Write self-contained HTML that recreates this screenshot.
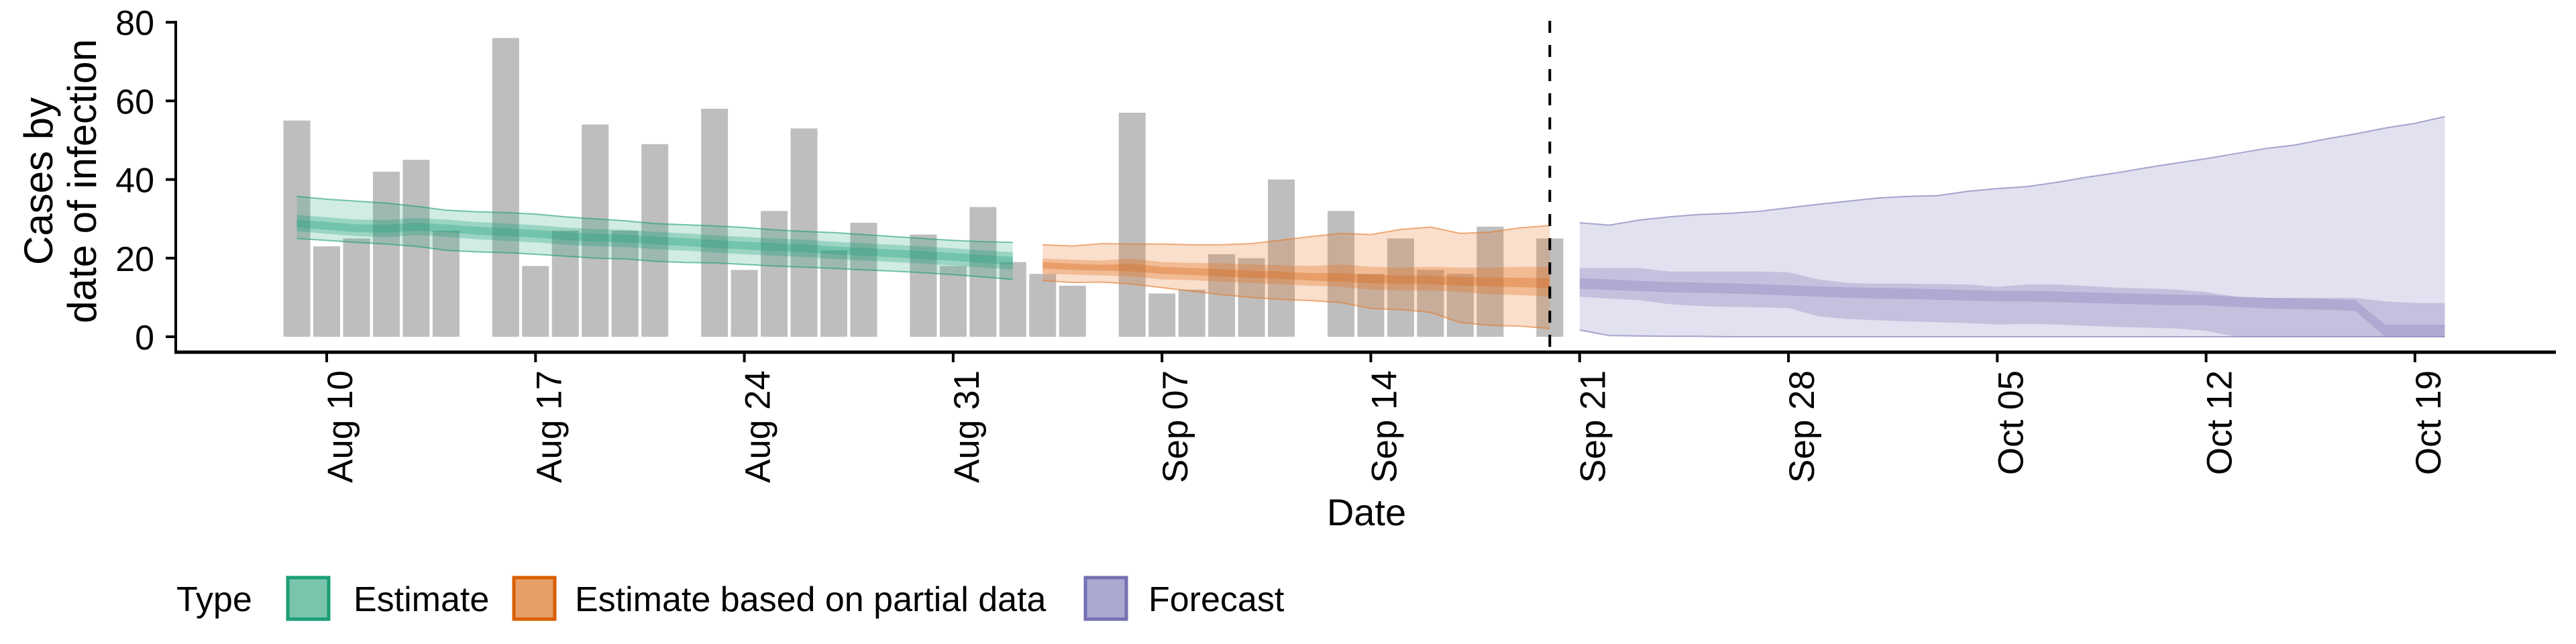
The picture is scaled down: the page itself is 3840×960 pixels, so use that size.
<!DOCTYPE html>
<html><head><meta charset="utf-8"><style>
html,body{margin:0;padding:0;background:#fff;}
svg{display:block;font-family:"Liberation Sans",Arial,sans-serif;}
</style></head><body>
<svg id="chart" width="3840" height="960" viewBox="0 0 3840 960" xmlns="http://www.w3.org/2000/svg">
<g id="bars"></g>
<g id="bands"></g>
<g id="axes"></g>
<text x="2037" y="783" font-size="56" text-anchor="middle">Date</text>
<g font-size="60" text-anchor="middle">
<text transform="translate(78,270) rotate(-90)">Cases by</text>
<text transform="translate(143,270) rotate(-90)">date of infection</text>
</g>
<g font-size="52">
<text x="263" y="911">Type</text>
<g>
<rect x="429" y="861" width="61" height="62" fill="#78c5ab" stroke="#1b9e77" stroke-width="5"/>
<text x="527" y="911">Estimate</text></g>
<g>
<rect x="766" y="861" width="61" height="62" fill="#e69d66" stroke="#d95f02" stroke-width="5"/>
<text x="857" y="911">Estimate based on partial data</text></g>
<g>
<rect x="1618" y="861" width="61" height="62" fill="#aba8cf" stroke="#7570b3" stroke-width="5"/>
<text x="1712" y="911">Forecast</text></g>
</g>
</svg>
<script>
// ---- data ----
const barStartOffset = -1; // Aug 09 relative to Aug 10
const cases = [55,23,25,42,45,27,null,76,18,27,54,27,49,null,58,17,32,53,22,29,null,26,18,33,19,16,13,null,57,11,12,21,20,40,null,32,16,25,17,16,28,null,25];
const xTickLabels = ["Aug 10","Aug 17","Aug 24","Aug 31","Sep 07","Sep 14","Sep 21","Sep 28","Oct 05","Oct 12","Oct 19"];
const yTickValues = [0,20,40,60,80];
const forecastDivider = 41; // Sep 20
const estStart = -1;
const gHi90 = [35.7,35,34.5,34,33.2,32.2,31.8,31.6,31.2,30.5,30,29.5,28.8,28.5,28.2,27.8,27.2,26.8,26.5,26,25.5,25,24.5,24.2,24];
const gLo90 = [25,24.5,24,23.6,23,22,21.6,21.4,21,20.5,20,19.8,19.2,18.9,18.8,18.4,18,17.7,17.4,17,16.7,16.3,15.8,15.2,14.6];
const gHi50 = [31.0,30.4,29.8,29.7,30.2,29.8,29.2,28.8,28.4,27.8,27.4,27.2,26.7,26.3,25.8,25.4,25.0,24.7,24.2,23.8,23.4,23.0,22.5,22.0,21.5];
const gLo50 = [26.8,26.2,25.6,25.3,25.9,25.4,24.8,24.4,24.0,23.4,23.0,22.8,22.3,21.9,21.4,21.0,20.6,20.3,19.8,19.4,19.0,18.6,18.1,17.6,17.1];
const gHi20 = [29.8,29.2,28.6,28.5,29.0,28.6,28.0,27.6,27.2,26.6,26.2,26.0,25.5,25.1,24.6,24.2,23.8,23.5,23.0,22.6,22.2,21.8,21.3,20.8,20.3];
const gLo20 = [27.8,27.2,26.6,26.4,27.0,26.6,26.0,25.6,25.2,24.6,24.2,24.0,23.5,23.1,22.6,22.2,21.8,21.5,21.0,20.6,20.2,19.8,19.3,18.8,18.3];
const partStart = 24; // Sep 03
const oHi90 = [23.4,23.1,23.7,23.6,23.6,23.4,23.4,23.7,24.6,25.5,26.3,26.0,27.3,27.9,26.3,26.6,27.7,28.3];
const oLo90 = [14.3,13.8,13.9,13.4,12.5,11.6,10.7,10.0,9.5,9.2,8.7,7.2,6.9,6.2,3.6,2.9,2.7,2.1];
const oHi50 = [19.9,19.6,19.4,19.9,19.0,18.8,18.7,18.4,18.2,18.0,18.4,17.8,17.6,17.8,17.6,17.6,17.8,17.8];
const oLo50 = [16.1,15.8,15.6,15.3,14.6,14.4,14.0,13.7,13.3,13.0,12.7,12.0,11.8,11.8,11.4,10.8,10.6,10.2];
const oHi20 = [19.0,18.6,18.3,18.6,17.8,17.5,17.2,16.8,16.6,16.2,16.2,15.8,15.6,15.6,15.2,15.1,15.0,14.9];
const oLo20 = [17.4,17.0,16.8,16.6,16.0,15.7,15.3,15.0,14.7,14.3,14.0,13.6,13.4,13.3,13.0,12.8,12.6,12.4];
const fcStart = 42; // Sep 21
const pHi90 = [29.0,28.4,29.7,30.5,31.1,31.4,31.9,32.8,33.7,34.5,35.3,35.7,35.9,37.0,37.7,38.2,39.3,40.6,41.7,43.0,44.2,45.3,46.6,47.9,48.8,50.3,51.6,53.1,54.3,56.0];
const pLo90 = [1.7,0.3,0.2,0.1,0.1,0,0,0,0,0,0,0,0,0,0,0,0,0,0,0,0,0,0,0,0,0,0,0,0,0];
const pHi50 = [17.5,17.5,17.5,16.6,16.6,16.6,16.6,16.4,14.6,13.7,13.5,13.5,13.4,13.3,12.7,13.3,13.3,12.9,12.5,12.3,12.0,11.4,10.2,9.9,9.9,9.9,9.9,9.0,8.6,8.6];
const pLo50 = [10.2,9.7,9.3,8.3,7.8,7.6,7.5,7.3,5.2,4.5,4.2,3.9,3.7,3.5,3.1,3.3,3.1,2.8,2.5,2.3,2.1,1.5,0,0,0,0,0,0,0,0];
const pHi20 = [14.9,14.6,14.2,13.9,13.8,13.6,13.4,13.1,12.8,12.6,12.4,12.3,12.1,11.9,11.7,11.7,11.5,11.3,11.1,10.9,10.7,10.6,10.2,9.9,9.8,9.6,9.3,3.1,3.1,3.1];
const pLo20 = [12.2,11.9,11.6,11.3,11.2,11.0,10.8,10.5,10.2,9.9,9.7,9.6,9.4,9.2,9.0,9.0,8.8,8.6,8.4,8.2,8.0,8.0,7.6,7.2,7.0,6.9,6.6,0,0,0];

// ---- scales ----
const NS = "http://www.w3.org/2000/svg";
const X0 = 487, DX = 44.47, Y0 = 502, DY = 5.86;
const xs = d => X0 + d * DX;
const ys = v => Y0 - v * DY;
function mk(tag, attrs, parent) {
  const e = document.createElementNS(NS, tag);
  for (const k in attrs) e.setAttribute(k, attrs[k]);
  parent.appendChild(e);
  return e;
}
// bars
const gb = document.getElementById('bars');
cases.forEach((v, i) => {
  if (v === null) return;
  const d = barStartOffset + i;
  const r = mk('rect', {x: xs(d) - DX * 0.45, y: ys(v), width: DX * 0.9, height: ys(0) - ys(v), fill: '#bebebe'}, gb);
  
  
});
// bands
const gband = document.getElementById('bands');
function band(start, hi, lo, color, op, outline, name) {
  let pts = hi.map((v, i) => xs(start + i) + ',' + ys(v));
  for (let i = lo.length - 1; i >= 0; i--) pts.push(xs(start + i) + ',' + ys(lo[i]));
  const p = mk('polygon', {points: pts.join(' '), fill: color, 'fill-opacity': op}, gband);
  
  
  if (outline) {
    const a = mk('polyline', {points: hi.map((v, i) => xs(start + i) + ',' + ys(v)).join(' '), fill: 'none', stroke: color, 'stroke-width': 2, 'stroke-opacity': 0.6}, gband);
    
    
    const b = mk('polyline', {points: lo.map((v, i) => xs(start + i) + ',' + ys(v)).join(' '), fill: 'none', stroke: color, 'stroke-width': 2, 'stroke-opacity': 0.6}, gband);
    
    
  }
}
band(estStart, gHi90, gLo90, '#1b9e77', 0.2, true, 'estimate-ci90');
band(estStart, gHi50, gLo50, '#1b9e77', 0.3, false, 'estimate-ci50');
band(estStart, gHi20, gLo20, '#1b9e77', 0.3, false, 'estimate-ci20');
band(partStart, oHi90, oLo90, '#e6792a', 0.24, true, 'partial-ci90');
band(partStart, oHi50, oLo50, '#e6792a', 0.35, false, 'partial-ci50');
band(partStart, oHi20, oLo20, '#d96a1a', 0.35, false, 'partial-ci20');
band(fcStart, pHi90, pLo90, '#7570b3', 0.21, true, 'forecast-ci90');
band(fcStart, pHi50, pLo50, '#7570b3', 0.28, false, 'forecast-ci50');
band(fcStart, pHi20, pLo20, '#7570b3', 0.28, false, 'forecast-ci20');

// axes
const ga = document.getElementById('axes');
const dl = mk('line', {x1: xs(forecastDivider), x2: xs(forecastDivider), y1: 31, y2: 525, stroke: '#000', 'stroke-width': 4, 'stroke-dasharray': '18 18'}, ga);


const yax = mk('line', {x1: 262, x2: 262, y1: 31, y2: 527, stroke: '#000', 'stroke-width': 4}, ga);


const xax = mk('line', {x1: 260, x2: 3810, y1: 525, y2: 525, stroke: '#000', 'stroke-width': 5}, ga);


yTickValues.forEach(v => {
  const t = mk('line', {x1: 247, x2: 262, y1: ys(v), y2: ys(v), stroke: '#000', 'stroke-width': 4}, ga);
  
  
  const l = mk('text', {x: 230, y: ys(v) + 19, 'font-size': 52, 'text-anchor': 'end'}, ga);
  l.textContent = String(v);
  
  
});
xTickLabels.forEach((s, i) => {
  const d = i * 7;
  const t = mk('line', {x1: xs(d), x2: xs(d), y1: 525, y2: 540, stroke: '#000', 'stroke-width': 4}, ga);
  
  
  const l = mk('text', {transform: 'translate(' + (xs(d) + 38) + ',552) rotate(-90)', 'font-size': 53, 'text-anchor': 'end'}, ga);
  l.textContent = s;
  
  
});
</script>
</body></html>
